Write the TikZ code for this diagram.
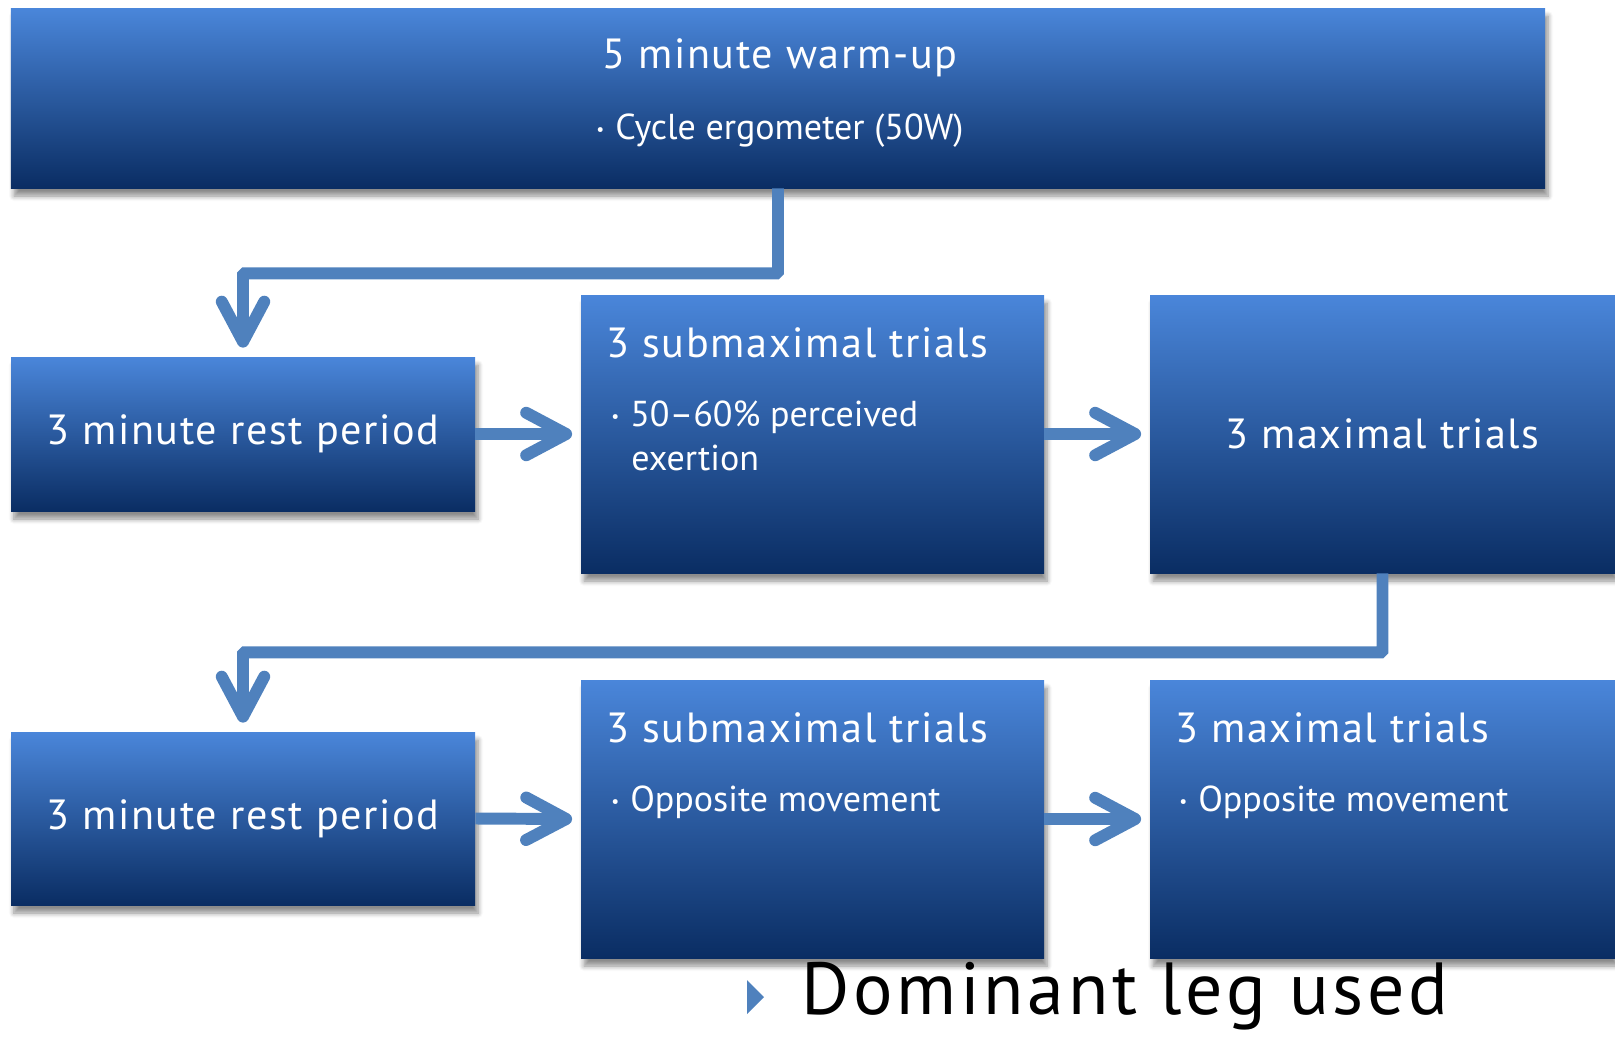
\documentclass[tikz,border=0pt]{standalone}
\usepackage{fontspec}
\setmainfont{PT Sans}
\newfontfamily\spacedfont[LetterSpace=4.0]{PT Sans}
\newfontfamily\notefont[LetterSpace=5.0]{PT Sans}
\usetikzlibrary{arrows.meta}
\usetikzlibrary{shadows.blur}
\usetikzlibrary{calc}

\definecolor{boxtop}{RGB}{74,134,218}
\definecolor{boxbottom}{RGB}{10,45,99}
\definecolor{flowblue}{RGB}{79,129,189}

\newcommand{\itemdot}{{\fontsize{10}{10}\selectfont\raisebox{0.45ex}{\textbullet}}\hspace{0.22cm}}

\begin{document}
\begin{tikzpicture}[
  stage/.style={rectangle, inner sep=0pt, top color=boxtop, bottom color=boxbottom,
    text=white, font=\spacedfont\fontsize{24}{29}\selectfont,
    blur shadow={shadow xshift=0.06cm, shadow yshift=-0.16cm, shadow blur radius=0.1cm, shadow blur steps=6, shadow opacity=45}},
  headtext/.style={text=white, inner sep=0pt, font=\spacedfont\fontsize{24}{29}\selectfont},
  itemtext/.style={text=white, inner sep=0pt, font=\fontsize{20.5}{25}\selectfont},
  flow/.style={draw=flowblue, line width=6.8pt, rounded corners=1pt,
    -{Straight Barb[length=0.8cm, width=0.85cm, round]}}
]
\useasboundingbox (0,0) rectangle (32.3,-20.72);

% boxes
\node[stage, minimum width=30.68cm, minimum height=3.6cm] (warmup) at (15.56,-1.96) {};
\node[stage, minimum width=9.28cm, minimum height=3.08cm] (rest1) at (4.86,-8.68) {3 minute rest period};
\node[stage, minimum width=9.26cm, minimum height=5.56cm] (submax1) at (16.25,-8.68) {};
\node[stage, minimum width=9.3cm, minimum height=5.56cm] (max1) at (27.65,-8.68) {3 maximal trials};
\node[stage, minimum width=9.28cm, minimum height=3.46cm] (rest2) at (4.86,-16.37) {3 minute rest period};
\node[stage, minimum width=9.26cm, minimum height=5.56cm] (submax2) at (16.25,-16.38) {};
\node[stage, minimum width=9.3cm, minimum height=5.56cm] (max2) at (27.65,-16.38) {};

% texts
\node[headtext] (warmuphead) at (15.6,-1.16) {5 minute warm-up};
\node[itemtext] (warmupitem) at (15.6,-2.62) {\itemdot Cycle ergometer (50W)};
\node[headtext, anchor=mid west] (submaxhead1) at (12.12,-7.07) {3 submaximal trials};
\node[itemtext, anchor=mid west, align=left] (submaxitem1) at (12.22,-9.32) {\itemdot 50--60\% perceived\\\hspace{0.4cm}exertion};
\node[headtext, anchor=mid west] (submaxhead2) at (12.12,-14.77) {3 submaximal trials};
\node[itemtext, anchor=mid west] (submaxitem2) at (12.22,-16.15) {\itemdot Opposite movement};
\node[headtext, anchor=mid west] (maxhead2) at (23.5,-14.77) {3 maximal trials};
\node[itemtext, anchor=mid west] (maxitem2) at (23.58,-16.15) {\itemdot Opposite movement};

% connectors
\draw[flow] (warmup.south) -- ++(0,-1.7) -| ($(rest1.north)+(0,0.18)$);
\draw[flow] (rest1.east) -- ($(submax1.west)+(-0.17,0)$);
\draw[flow] (submax1.east) -- ($(max1.west)+(-0.17,0)$);
\draw[flow] (max1.south) -- ++(0,-1.58) -| ($(rest2.north)+(0,0.18)$);
\draw[flow] (rest2.east) -- ($(submax2.west)+(-0.17,0)$);
\draw[flow] (submax2.east) -- ($(max2.west)+(-0.17,0)$);

% note
\node[anchor=base west, inner sep=0pt, font=\notefont\fontsize{42}{50}\selectfont] (dominant) at (16.02,-20.28) {Dominant leg used};
\fill[flowblue] ($(dominant.base west)+(-1.08,0.68)$) -- ($(dominant.base west)+(-0.74,0.34)$) -- ($(dominant.base west)+(-1.08,0)$) -- cycle;
\end{tikzpicture}
\end{document}
